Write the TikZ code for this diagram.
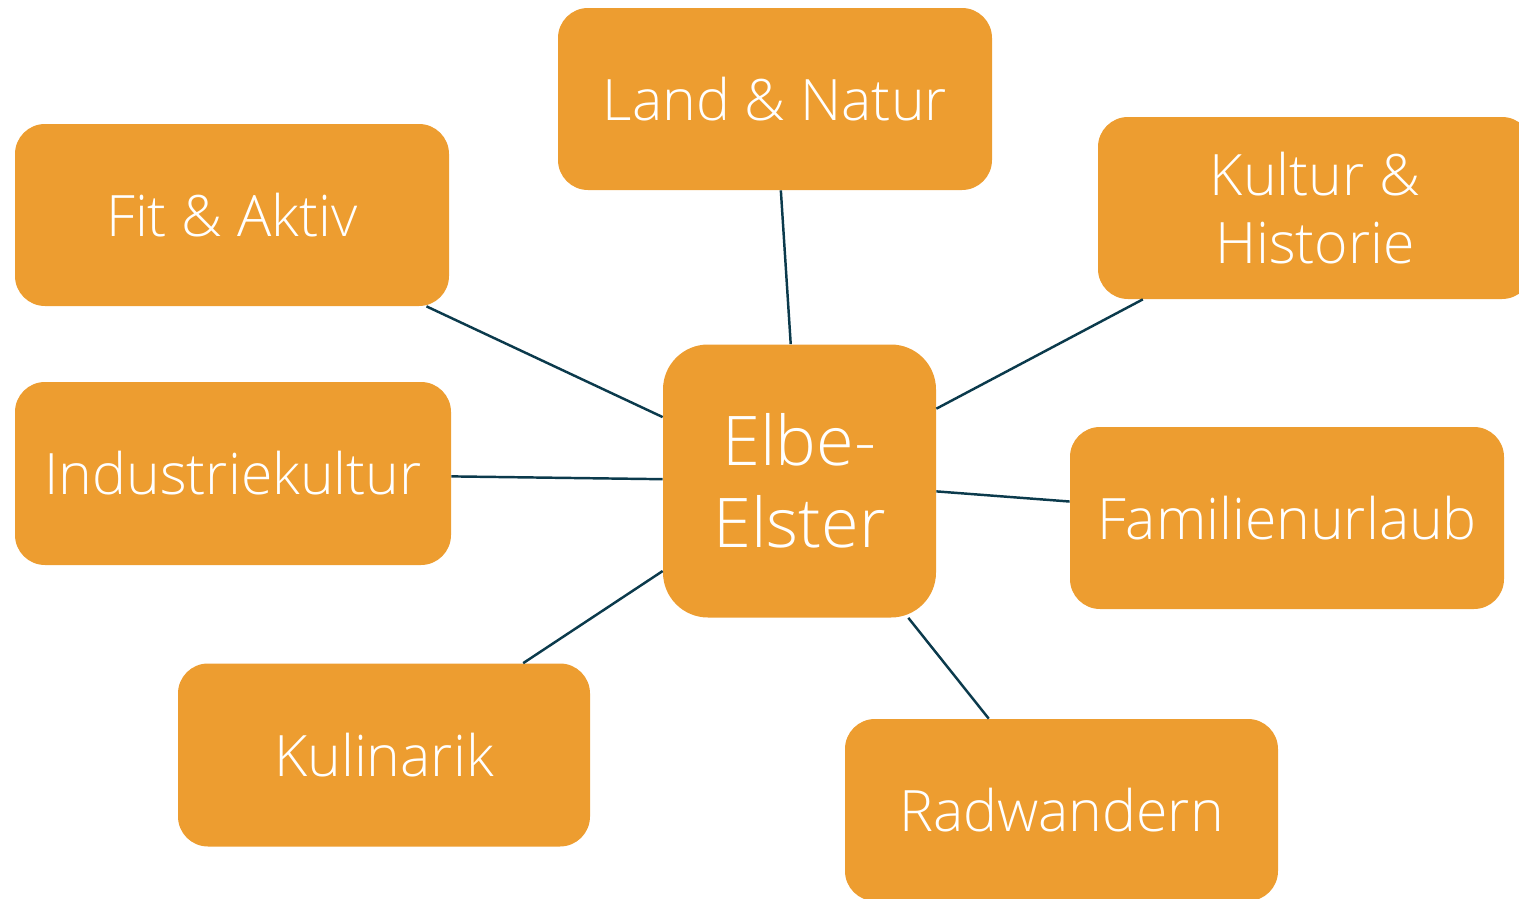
\documentclass[tikz,border=0pt]{standalone}
\usepackage{fontspec}
\setmainfont{Open Sans}[UprightFont=* Light]
\definecolor{boxorange}{HTML}{ED9D30}
\definecolor{linkteal}{HTML}{0B3A4C}
\begin{document}
\begin{tikzpicture}
			[topic/.style={rectangle,rounded corners=0.6cm,fill=boxorange,text=white,inner sep=0pt,
				minimum width=8.68cm,minimum height=3.64cm,align=center,font=\fontsize{32.5}{39}\selectfont},
			hub/.style={topic,rounded corners=0.9cm,minimum width=5.46cm,minimum height=5.46cm,
				font=\fontsize{39}{46.5}\selectfont},
			link/.style={draw=linkteal,line width=1.4pt}]
			\useasboundingbox (0,0) rectangle (30.38,-17.98);
			\clip (0,0) rectangle (30.38,-17.98);
			\node[hub,name=elbe] at (15.99,-9.62) {Elbe-\\Elster};
			\node[topic,name=land] at (15.5,-1.98) {Land \& Natur};
			\node[topic,name=fit] at (4.64,-4.3) {Fit \& Aktiv};
			\node[topic,name=kultur] at (26.3,-4.16) {Kultur \&\\Historie};
			\node[topic,name=industrie,minimum width=8.72cm,minimum height=3.66cm] at (4.66,-9.47) {Industriekultur};
			\node[topic,name=familie] at (25.74,-10.36) {Familienurlaub};
			\node[topic,name=kulinarik,minimum width=8.24cm,minimum height=3.66cm] at (7.68,-15.1) {Kulinarik};
			\node[topic,name=rad,minimum width=8.66cm] at (21.23,-16.2) {Radwandern};
			\draw[link](elbe)--(land);
			\draw[link](elbe)--(fit);
			\draw[link](elbe)--(kultur);
			\draw[link](elbe)--(industrie);
			\draw[link](elbe)--(familie);
			\draw[link](elbe)--(kulinarik);
			\draw[link](elbe)--(rad);
		\end{tikzpicture}
\end{document}
